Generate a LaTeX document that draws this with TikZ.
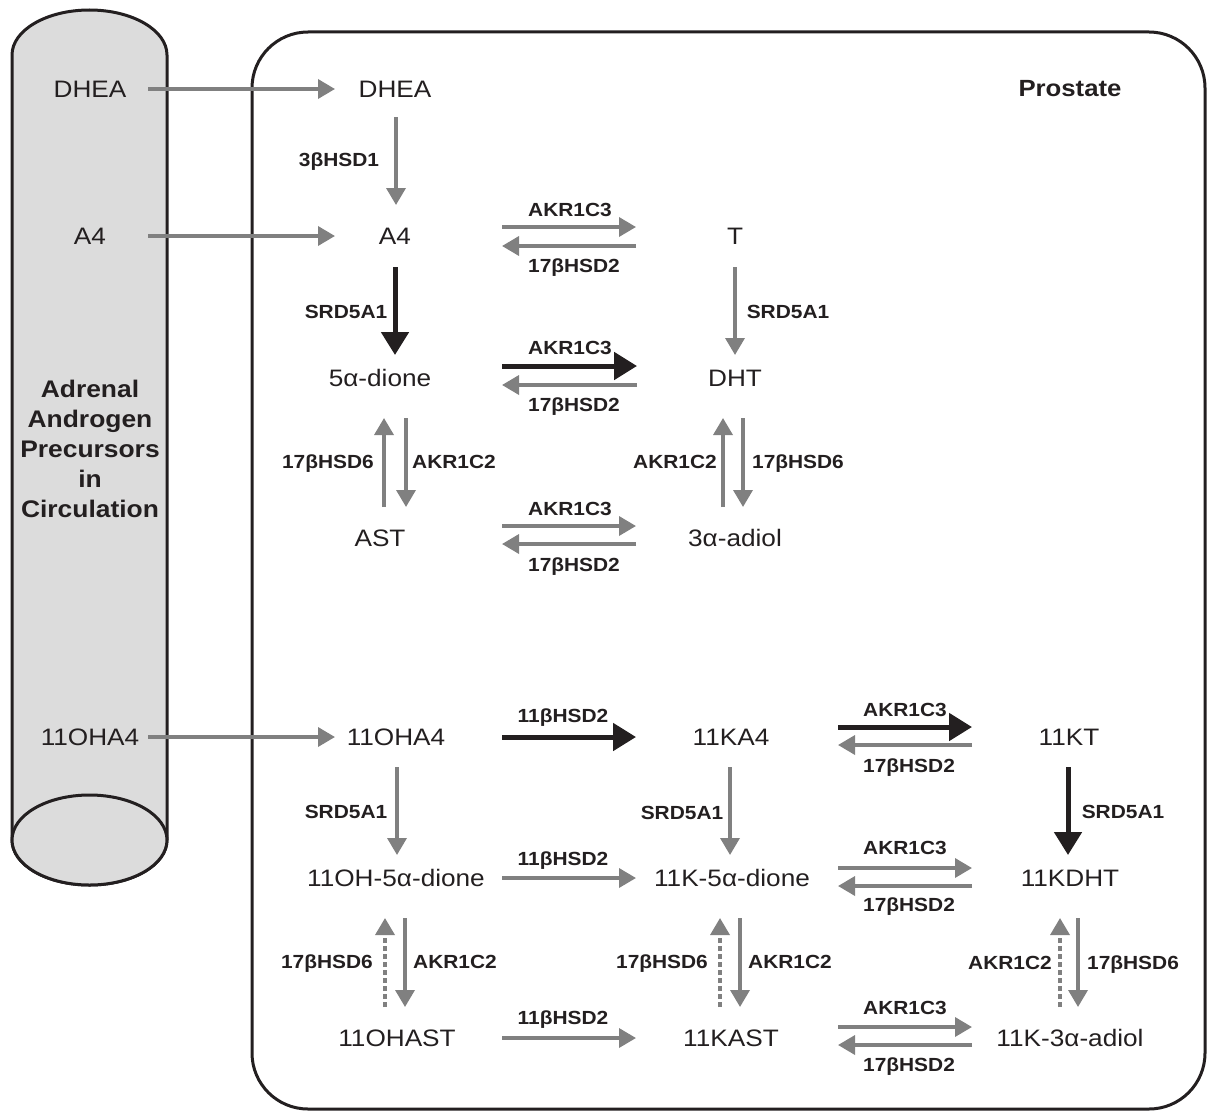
\documentclass[tikz,border=0pt]{standalone}
\usepackage{fontspec}
\setmainfont[FakeStretch=1.1]{Liberation Sans}
\usetikzlibrary{arrows.meta,calc}
\definecolor{ink}{HTML}{231F20}
\definecolor{arrgray}{HTML}{808080}
\definecolor{cylfill}{HTML}{DCDCDC}
\begin{document}
\begin{tikzpicture}[x=0.5pt,y=-0.5pt,
  cmp/.style={inner sep=0pt, text height=8.45pt, text depth=0pt, font=\fontsize{11.9}{14}\selectfont, text=ink},
  lab/.style={inner sep=0pt, text height=6.8pt, text depth=0pt, font=\fontsize{9.5}{11}\selectfont\bfseries, text=ink},
  garrow/.style={draw=arrgray, line width=1.75pt, -{Triangle[length=8.5pt,width=9.5pt]}},
  barrow/.style={draw=ink, line width=2.5pt, -{Triangle[length=11.5pt,width=13.5pt]}},
  darrow/.style={garrow, dash pattern=on 2.5pt off 1.5pt},
  frame/.style={draw=ink, line width=1.5pt},
]
\useasboundingbox (0,0) rectangle (1208,1113);

% cylinder (circulation)
\path[frame, fill=cylfill] (12,840) -- (12,55)
  arc[start angle=180, end angle=0, x radius=38.75pt, y radius=22.5pt]
  -- (167,840)
  arc[start angle=0, end angle=-180, x radius=38.75pt, y radius=22.5pt] -- cycle;
\draw[frame, fill=cylfill] (89.5,840) ellipse[x radius=38.75pt, y radius=22.5pt];

% prostate box
\draw[frame, rounded corners=28pt] (252,32) rectangle (1205,1109);

% titles
\node[align=center, inner sep=0pt, text=ink, font=\fontsize{12}{15}\selectfont\bfseries] (adrenal) at (90,449)
  {Adrenal\\Androgen\\Precursors\\in\\Circulation};
\node[inner sep=0pt, text=ink, font=\fontsize{11.7}{14}\selectfont\bfseries] (prostate) at (1070,89) {Prostate};

% circulation compounds
\node[cmp] (cDHEA) at (90,89) {DHEA};
\node[cmp] (cA4) at (90,236) {A4};
\node[cmp] (cOHA4) at (90,737) {11OHA4};

% prostate compounds (classical)
\node[cmp] (DHEA) at (395,89) {DHEA};
\node[cmp] (A4) at (395,236) {A4};
\node[cmp] (T) at (735,236) {T};
\node[cmp] (dione) at (380,378) {5α-dione};
\node[cmp] (DHT) at (735,378) {DHT};
\node[cmp] (AST) at (380,538) {AST};
\node[cmp] (adiol) at (735,538) {3α-adiol};

% 11-oxygenated
\node[cmp] (OHA4) at (396,737) {11OHA4};
\node[cmp] (KA4) at (731,737) {11KA4};
\node[cmp] (KT) at (1069,737) {11KT};
\node[cmp] (OHdione) at (396,878) {11OH-5α-dione};
\node[cmp] (Kdione) at (732,878) {11K-5α-dione};
\node[cmp] (KDHT) at (1070,878) {11KDHT};
\node[cmp] (OHAST) at (397,1038) {11OHAST};
\node[cmp] (KAST) at (731,1038) {11KAST};
\node[cmp] (Kadiol) at (1070,1038) {11K-3α-adiol};

% enzyme labels
\node[lab] (l1) at (339,160) {3βHSD1};
\node[lab] (l2) at (570,210) {AKR1C3};
\node[lab] (l3) at (574,266) {17βHSD2};
\node[lab] (l4) at (346,312) {SRD5A1};
\node[lab] (l5) at (788,312) {SRD5A1};
\node[lab] (l6) at (570,348) {AKR1C3};
\node[lab] (l7) at (574,405) {17βHSD2};
\node[lab] (l8) at (328,462) {17βHSD6};
\node[lab] (l9) at (454,462) {AKR1C2};
\node[lab] (l10) at (675,462) {AKR1C2};
\node[lab] (l11) at (798,462) {17βHSD6};
\node[lab] (l12) at (570,509) {AKR1C3};
\node[lab] (l13) at (574,565) {17βHSD2};
\node[lab] (l14) at (563,716) {11βHSD2};
\node[lab] (l15) at (905,710) {AKR1C3};
\node[lab] (l16) at (909,766) {17βHSD2};
\node[lab] (l17) at (346,812) {SRD5A1};
\node[lab] (l18) at (682,813) {SRD5A1};
\node[lab] (l19) at (1123,812) {SRD5A1};
\node[lab] (l20) at (563,859) {11βHSD2};
\node[lab] (l21) at (905,848) {AKR1C3};
\node[lab] (l22) at (909,905) {17βHSD2};
\node[lab] (l23) at (327,962) {17βHSD6};
\node[lab] (l24) at (455,962) {AKR1C2};
\node[lab] (l25) at (662,962) {17βHSD6};
\node[lab] (l26) at (790,962) {AKR1C2};
\node[lab] (l27) at (1010,963) {AKR1C2};
\node[lab] (l28) at (1133,963) {17βHSD6};
\node[lab] (l29) at (563,1018) {11βHSD2};
\node[lab] (l30) at (905,1008) {AKR1C3};
\node[lab] (l31) at (909,1065) {17βHSD2};

% uptake from circulation
\draw[garrow] ($(cDHEA)+(58,0)$) -- ($(DHEA)+(-60,0)$);
\draw[garrow] ($(cA4)+(58,0)$) -- ($(A4)+(-60,0)$);
\draw[garrow] ($(cOHA4)+(58,0)$) -- ($(OHA4)+(-61,0)$);

% classical pathway
\draw[garrow] ($(DHEA)+(1,28)$) -- ($(A4)+(1,-31)$);
\draw[barrow] ($(A4)+(0,31)$) -- ($(A4|-dione)+(0,-23)$);
\draw[garrow] ($(A4)+(107,-9)$) -- ($(T)+(-99,-9)$);
\draw[garrow] ($(T)+(-99,10)$) -- ($(A4)+(107,10)$);
\draw[garrow] ($(T)+(0,31)$) -- ($(DHT)+(0,-23)$);
\draw[barrow] ($(dione)+(122,-12)$) -- ($(DHT)+(-98,-12)$);
\draw[garrow] ($(DHT)+(-98,7)$) -- ($(dione)+(122,7)$);
\draw[garrow] ($(AST)+(4,-31)$) -- ($(dione)+(4,40)$);
\draw[garrow] ($(dione)+(26,40)$) -- ($(AST)+(26,-31)$);
\draw[garrow] ($(adiol)+(-12,-31)$) -- ($(DHT)+(-12,40)$);
\draw[garrow] ($(DHT)+(8,40)$) -- ($(adiol)+(8,-31)$);
\draw[garrow] ($(AST)+(122,-12)$) -- ($(adiol)+(-99,-12)$);
\draw[garrow] ($(adiol)+(-99,6)$) -- ($(AST)+(122,6)$);

% 11-oxygenated pathway
\draw[barrow] ($(OHA4)+(106,0)$) -- ($(KA4)+(-95,0)$);
\draw[barrow] ($(KA4)+(107,-10)$) -- ($(KT)+(-97,-10)$);
\draw[garrow] ($(KT)+(-97,8)$) -- ($(KA4)+(107,8)$);
\draw[garrow] ($(OHA4)+(1,30)$) -- ($(OHdione)+(1,-23)$);
\draw[garrow] ($(KA4)+(-1,30)$) -- ($(Kdione)+(-2,-23)$);
\draw[barrow] ($(KT)+(-1,30)$) -- ($(KDHT)+(-2,-23)$);
\draw[garrow] ($(OHdione)+(106,0)$) -- ($(Kdione)+(-96,0)$);
\draw[garrow] ($(Kdione)+(106,-10)$) -- ($(KDHT)+(-98,-10)$);
\draw[garrow] ($(KDHT)+(-98,8)$) -- ($(Kdione)+(106,8)$);
\draw[darrow] ($(OHAST)+(-12,-31)$) -- ($(OHdione)+(-11,40)$);
\draw[garrow] ($(OHdione)+(9,40)$) -- ($(OHAST)+(8,-31)$);
\draw[darrow] ($(KAST)+(-11,-31)$) -- ($(Kdione)+(-12,40)$);
\draw[garrow] ($(Kdione)+(8,40)$) -- ($(KAST)+(9,-31)$);
\draw[darrow] ($(Kadiol)+(-10,-31)$) -- ($(KDHT)+(-10,40)$);
\draw[garrow] ($(KDHT)+(8,40)$) -- ($(Kadiol)+(8,-31)$);
\draw[garrow] ($(OHAST)+(105,0)$) -- ($(KAST)+(-95,0)$);
\draw[garrow] ($(KAST)+(107,-11)$) -- ($(Kadiol)+(-98,-11)$);
\draw[garrow] ($(Kadiol)+(-98,7)$) -- ($(KAST)+(107,7)$);
\end{tikzpicture}
\end{document}
